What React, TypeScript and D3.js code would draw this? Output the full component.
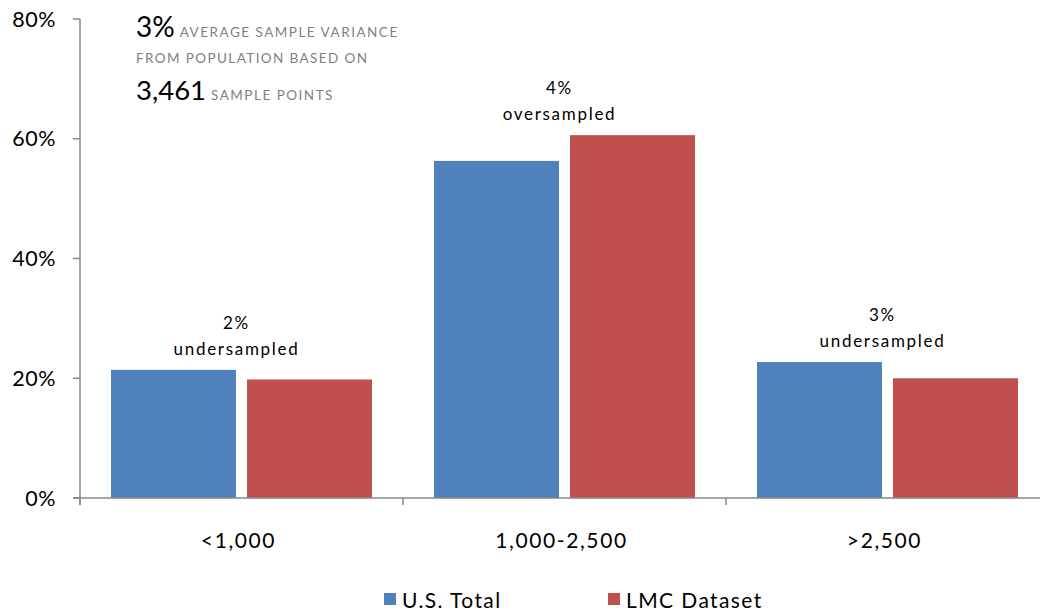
import React from "react";
import * as d3 from "d3";

const categories = ["<1,000", "1,000-2,500", ">2,500"];
const seriesNames = ["U.S. Total", "LMC Dataset"];
const usTotal = [21.4, 56.3, 22.7];
const lmcDataset = [19.8, 60.6, 20.0];
const yTicks = [0, 20, 40, 60, 80];
const barNotes = [
  ["2%", "undersampled"],
  ["4%", "oversampled"],
  ["3%", "undersampled"],
];
const colors = ["#4F81BD", "#C0504D"];

const FONT = "Lato, 'Open Sans', sans-serif";

export default function App() {
  const W = 1040;
  const H = 613;
  const left = 80;
  const y0 = 498;
  const yTop = 19;
  const step = 323;

  const y = d3.scaleLinear().domain([0, 80]).range([y0, yTop]);
  const x = d3
    .scaleBand<string>()
    .domain(categories)
    .range([left, left + step * categories.length])
    .padding(0);
  const xs = d3
    .scaleBand<string>()
    .domain(seriesNames)
    .range([31, x.bandwidth() - 31])
    .paddingInner(0.081)
    .paddingOuter(0);

  const values = [usTotal, lmcDataset];
  const tickPositions = [...categories.map((c) => x(c) as number), left + step * categories.length];

  return (
    <svg
      width={W}
      height={H}
      style={{ position: "absolute", left: 0, top: 0, background: "#fff" }}
      fontFamily={FONT}
    >
      {/* bars */}
      {seriesNames.map((s, si) =>
        categories.map((c, ci) => (
          <rect
            key={s + c}
            x={(x(c) as number) + (xs(s) as number)}
            y={y(values[si][ci])}
            width={xs.bandwidth()}
            height={y0 - y(values[si][ci])}
            fill={colors[si]}
          />
        ))
      )}

      {/* y axis */}
      <line x1={left} x2={left} y1={yTop} y2={y0 + 7} stroke="#888" strokeWidth={1.5} />
      {yTicks.map((t) => (
        <g key={t}>
          <line x1={left - 7} x2={left} y1={y(t)} y2={y(t)} stroke="#888" strokeWidth={1.5} />
          <text x={56} y={y(t)} dy="0.35em" textAnchor="end" fontSize={21.5} letterSpacing={0.5} fill="#000">
            {t}%
          </text>
        </g>
      ))}

      {/* x axis */}
      <line x1={left - 7} x2={W} y1={y0} y2={y0} stroke="#888" strokeWidth={1.5} />
      {tickPositions.map((p, i) => (
        <line key={i} x1={p} x2={p} y1={y0} y2={y0 + 7} stroke="#888" strokeWidth={1.5} />
      ))}
      {categories.map((c) => (
        <text
          key={c}
          x={(x(c) as number) + x.bandwidth() / 2 - 3}
          y={548}
          textAnchor="middle"
          fontSize={21}
          letterSpacing={1.6}
          fill="#000"
        >
          {c}
        </text>
      ))}

      {/* bar notes */}
      {categories.map((c, ci) => {
        const top = y(Math.max(usTotal[ci], lmcDataset[ci]));
        const cx = (x(c) as number) + x.bandwidth() / 2 - 5;
        return (
          <g key={"n" + c}>
            <text x={cx} y={top - 41} textAnchor="middle" fontSize={17} letterSpacing={1.7} fill="#000">
              {barNotes[ci][0]}
            </text>
            <text x={cx} y={top - 15} textAnchor="middle" fontSize={17} letterSpacing={1.7} fill="#000">
              {barNotes[ci][1]}
            </text>
          </g>
        );
      })}

      {/* annotation */}
      <text x={136} y={37} fill="#000">
        <tspan fontSize={28}>3%</tspan>
        <tspan fontSize={13.5} fill="#7f7f7f" letterSpacing={1.5} dx={5}>
          AVERAGE SAMPLE VARIANCE
        </tspan>
      </text>
      <text x={136} y={63} fontSize={13.5} fill="#7f7f7f" letterSpacing={1.4}>
        FROM POPULATION BASED ON
      </text>
      <text x={136} y={100} fill="#000">
        <tspan fontSize={27.5}>3,461</tspan>
        <tspan fontSize={13.5} fill="#7f7f7f" letterSpacing={1.5} dx={5}>
          SAMPLE POINTS
        </tspan>
      </text>

      {/* legend */}
      {seriesNames.map((s, i) => {
        const lx = [384, 608][i];
        return (
          <g key={"l" + s}>
            <rect x={lx} y={593} width={12} height={12} fill={colors[i]} />
            <text x={lx + 18} y={608} fontSize={21} letterSpacing={1.4} fill="#000">
              {s}
            </text>
          </g>
        );
      })}
    </svg>
  );
}
